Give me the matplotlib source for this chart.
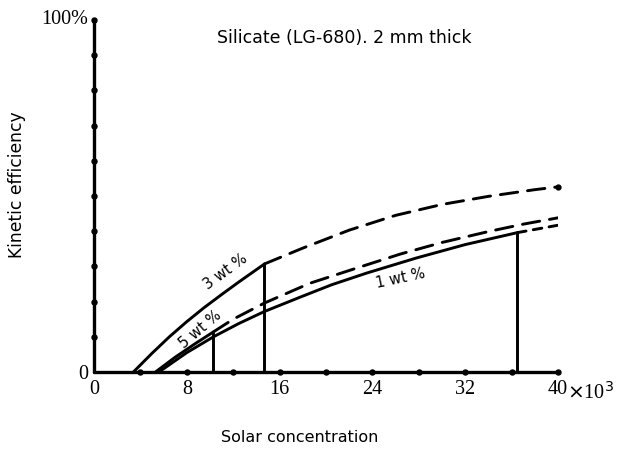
import matplotlib
matplotlib.use("Agg")
import matplotlib.pyplot as plt

# solar concentration (x 10^3) and kinetic efficiency (%)
wt3_x = [3.4, 5.0, 6.5, 8.0, 9.5, 11.0, 12.5, 14.7]
wt3_y = [0, 5.3, 10.0, 14.3, 18.3, 22.0, 25.6, 30.7]
wt3_dash_x = [14.7, 18, 22, 26, 30, 34, 38, 40]
wt3_dash_y = [30.7, 35.2, 40.3, 44.5, 47.6, 49.9, 51.8, 52.6]

wt5_x = [5.3, 7.0, 8.7, 10.3]
wt5_y = [0, 4.2, 8.0, 11.4]
wt5_dash_x = [10.3, 12, 14.7, 18.6, 22.9, 26.4, 30, 34, 37, 40]
wt5_dash_y = [11.4, 15.0, 19.6, 25.2, 29.8, 33.5, 36.8, 39.9, 42.0, 43.8]

wt1_x = [5.6, 8, 10.3, 12.5, 14.7, 17.8, 20.5, 23.5, 27.8, 32, 36.5]
wt1_y = [0, 5.5, 10.0, 13.8, 17.2, 21.3, 24.8, 28.1, 32.4, 36.2, 39.6]
wt1_dash_x = [36.5, 38, 40]
wt1_dash_y = [39.6, 40.5, 41.7]

x_ticks = [0, 8, 16, 24, 32, 40]
x_tick_labels = ["0", "8", "16", "24", "32", "40"]
x_dots = [4, 8, 12, 16, 20, 24, 28, 32, 36, 40]
y_dots = [10, 20, 30, 40, 50, 60, 70, 80, 90, 100]

fig = plt.figure(figsize=(6.18, 4.5), dpi=100)
ax = fig.add_axes([0.152, 0.1733, 0.751, 0.7823])

lw = 2.1
dash = (0, (6, 3.4))
kw = dict(color="black", lw=lw, solid_capstyle="round", dash_capstyle="round")

ax.plot(wt3_x, wt3_y, **kw)
ax.plot(wt3_dash_x, wt3_dash_y, linestyle=dash, **kw)
ax.plot([wt3_x[-1], wt3_x[-1]], [0, wt3_y[-1]], **kw)

ax.plot(wt5_x, wt5_y, **kw)
ax.plot(wt5_dash_x, wt5_dash_y, linestyle=dash, **kw)
ax.plot([wt5_x[-1], wt5_x[-1]], [0, wt5_y[-1]], **kw)

ax.plot(wt1_x, wt1_y, **kw)
ax.plot(wt1_dash_x, wt1_dash_y, linestyle=(0, (3, 2.5)), **kw)
ax.plot([wt1_x[-1], wt1_x[-1]], [0, wt1_y[-1]], **kw)

# end dot on the top dashed curve
ax.plot(wt3_dash_x[-1], wt3_dash_y[-1], "o", color="black", ms=3.5, clip_on=False)

# round tick dots along the axes
ax.plot(x_dots, [0] * len(x_dots), "o", color="black", ms=3.6, clip_on=False)
ax.plot([0] * len(y_dots), y_dots, "o", color="black", ms=3.6, clip_on=False)

ax.set_xlim(0, 40)
ax.set_ylim(0, 100)
ax.spines["top"].set_visible(False)
ax.spines["right"].set_visible(False)
ax.spines["left"].set_linewidth(2.4)
ax.spines["bottom"].set_linewidth(2.4)
ax.spines["left"].set_capstyle("round")
ax.spines["bottom"].set_capstyle("round")

serif = "Liberation Serif"
ax.set_xticks(x_ticks)
ax.set_xticklabels(x_tick_labels, fontfamily=serif, fontsize=14.5)
ax.set_yticks([0, 100])
ax.set_yticklabels(["0", "100%"], fontfamily=serif, fontsize=14.5)
ax.tick_params(axis="x", length=0, pad=6)
ax.tick_params(axis="y", length=0, pad=4)
ax.get_yticklabels()[1].set_va("center")

ax.text(40.75, -6.0, r"$\times$10$^3$", fontfamily=serif, fontsize=14.5,
        ha="left", va="center", clip_on=False)

sans = "DejaVu Sans"
ax.text(21.6, 94.8, "Silicate (LG-680). 2 mm thick", fontfamily=sans, fontsize=12.5,
        ha="center", va="center")
ax.text(11.3, 28.6, "3 wt %", fontfamily=sans, fontsize=10.5, rotation=36,
        ha="center", va="center")
ax.text(9.2, 12.1, "5 wt %", fontfamily=sans, fontsize=10.5, rotation=40,
        ha="center", va="center")
ax.text(26.4, 26.5, "1 wt %", fontfamily=sans, fontsize=10.5, rotation=12,
        ha="center", va="center")

fig.text(300 / 618, 1 - 437 / 450, "Solar concentration", fontfamily=sans,
         fontsize=11.5, ha="center", va="center")
fig.text(17 / 618, 1 - 185 / 450, "Kinetic efficiency", fontfamily=sans,
         fontsize=12.3, ha="center", va="center", rotation=90)

fig.savefig("out.png", dpi=100)
